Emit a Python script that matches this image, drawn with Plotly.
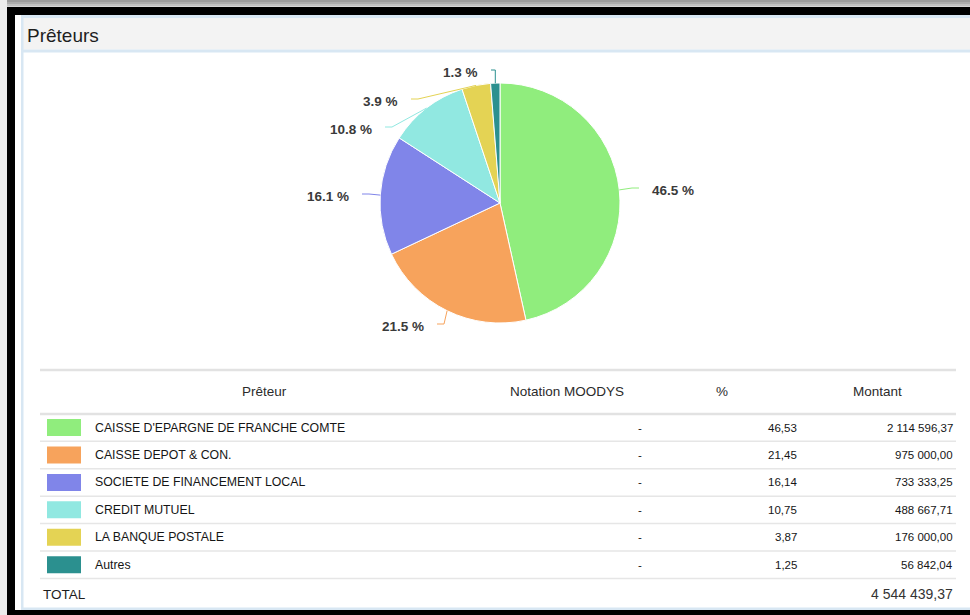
import math
import plotly.graph_objects as go

# ---------------- data ----------------
lenders = ["CAISSE D'EPARGNE DE FRANCHE COMTE", "CAISSE DEPOT & CON.",
           "SOCIETE DE FINANCEMENT LOCAL", "CREDIT MUTUEL",
           "LA BANQUE POSTALE", "Autres"]
ratings = ["-", "-", "-", "-", "-", "-"]
shares = [46.53, 21.45, 16.14, 10.75, 3.87, 1.25]
amounts = [2114596.37, 975000.00, 733333.25, 488667.71, 176000.00, 56842.04]
total_amount = 4544439.37
headers = ["Prêteur", "Notation MOODYS", "%", "Montant"]
title = "Prêteurs"
total_label = "TOTAL"

# ---------------- styles / layout ----------------
colors = ["#90ed7d", "#f7a35c", "#8085e9", "#91e8e1", "#e4d354", "#2b908f"]
W, H = 970, 615
FONT = "Liberation Sans, Arial, sans-serif"

# pie geometry (pixels)
PIE_CX, PIE_CY, PIE_R = 500, 203, 120
# data-label text anchor (edge of the text nearest the pie, centre y)
LABEL_POS = [(652, 190), (424, 326), (349, 196), (372, 129), (398, 101), (478, 72)]

# table geometry (pixels)
T_LEFT, T_RIGHT = 40, 956
TOP_LINE_Y, HEADER_Y, HEADER_LINE_Y = 370, 391, 414
ROW0_Y, ROW_PITCH, TOTAL_Y = 427.5, 27.45, 594
SW_X0, SW_X1, SW_H = 47, 81, 17
NAME_X, RATING_X, PCT_X, AMT_X = 95, 640, 797, 953
HEADER_X = [264, 567, 722, 877]


def fr_num(v):
    return f"{v:,.2f}".replace(",", " ").replace(".", ",")


def px(x):
    return x / W


def py(y):
    return 1 - y / H


fig = go.Figure()

# invisible trace to instantiate the pixel-space axes
fig.add_trace(go.Scatter(x=[0, W], y=[0, H], mode="markers",
                         marker=dict(opacity=0), hoverinfo="skip", showlegend=False))

fig.add_trace(go.Pie(
    values=amounts, labels=lenders, sort=False, direction="clockwise", rotation=0,
    marker=dict(colors=colors, line=dict(color="white", width=1)),
    textinfo="none", hoverinfo="label+percent", showlegend=False,
    domain=dict(x=[px(PIE_CX - PIE_R), px(PIE_CX + PIE_R)],
                y=[py(PIE_CY + PIE_R), py(PIE_CY - PIE_R)]),
))

shapes = []
annotations = []


def rect(x0, y0, x1, y1, color, layer="below"):
    shapes.append(dict(type="rect", xref="x", yref="y", x0=x0, x1=x1, y0=y0, y1=y1,
                       fillcolor=color, line=dict(width=0), layer=layer))


def hline(y, x0, x1, color, width):
    shapes.append(dict(type="line", xref="x", yref="y", x0=x0, x1=x1, y0=y, y1=y,
                       line=dict(color=color, width=width), layer="below"))


def text(x, y, s, anchor, font):
    annotations.append(dict(x=x, y=y, xref="x", yref="y", text=s, showarrow=False,
                            xanchor=anchor, yanchor="middle", borderpad=0, borderwidth=0,
                            font=font))


# ---- screenshot frame ----
rect(0, 0, W, 2, "#9c9c9c")
rect(0, 2, W, 4, "#adadad")
rect(0, 4, W, 6, "#c2c2c2")
rect(0, 6, W, 7, "#d6d6d6")
rect(0, 0, 7, H, "#ececec")
rect(7, 7, W, 15, "#000000")
rect(7, 7, 15, H, "#000000")
rect(7, 610, W, H, "#000000")
# panel
rect(21, 15, W, 18, "#d8e7f3")
rect(23, 18, W, 49.5, "#f3f3f3")
rect(21, 49.5, W, 52.5, "#d8e7f3")
rect(21, 15, 23.5, 610, "#d8e7f3")
rect(21, 607.5, W, 610, "#d8e7f3")

text(27, 35, title, "left", dict(family=FONT, size=19, color="#1e1e1e"))

# ---- pie data labels with connectors ----
total = sum(amounts)
cum = 0.0
for i, v in enumerate(amounts):
    frac = v / total
    mid = 2 * math.pi * (cum + frac / 2)
    cum += frac
    ex = PIE_CX + PIE_R * math.sin(mid)
    ey = PIE_CY - PIE_R * math.cos(mid)
    tx, ty = LABEL_POS[i]
    right = mid < math.pi
    if right:
        lx, ly = tx - 13, ty - 2
        mx = max(lx - 7, ex)
    else:
        lx, ly = tx + 13, ty - 2
        mx = min(lx + 7, ex)
    shapes.append(dict(type="path", xref="x", yref="y",
                       path=f"M {ex:.1f} {ey:.1f} L {mx:.1f} {ly:.1f} L {lx:.1f} {ly:.1f}",
                       line=dict(color=colors[i], width=1), layer="above"))
    text(tx, ty, f"{100 * frac:.1f} %", "left" if right else "right",
         dict(family=FONT, size=13.5, color="#3a3a3a", weight="bold"))

# ---- table ----
hline(TOP_LINE_Y, T_LEFT, T_RIGHT, "#e2e2e2", 2.5)
hline(HEADER_LINE_Y, T_LEFT, T_RIGHT, "#e2e2e2", 2.5)
for hx, htxt in zip(HEADER_X, headers):
    text(hx, HEADER_Y, htxt, "center", dict(family=FONT, size=13.5, color="#2b2b2b"))

row_font = dict(family=FONT, size=12.3, color="#151515")
num_font = dict(family=FONT, size=11.5, color="#151515")
for i, name in enumerate(lenders):
    cy = ROW0_Y + i * ROW_PITCH
    hline(cy + ROW_PITCH / 2, T_LEFT, T_RIGHT, "#e6e6e6", 1.5)
    rect(SW_X0, cy - SW_H / 2, SW_X1, cy + SW_H / 2, colors[i])
    text(NAME_X, cy, name, "left", row_font)
    text(RATING_X, cy, ratings[i], "center", num_font)
    text(PCT_X, cy, fr_num(shares[i]), "right", num_font)
    text(AMT_X, cy, fr_num(amounts[i]), "right", num_font)

text(43, TOTAL_Y, total_label, "left", dict(family=FONT, size=13.5, color="#1e1e1e"))
text(AMT_X, TOTAL_Y, fr_num(total_amount), "right", dict(family=FONT, size=14, color="#333333"))

fig.update_layout(
    width=W, height=H, margin=dict(l=0, r=0, t=0, b=0),
    paper_bgcolor="white", plot_bgcolor="rgba(0,0,0,0)",
    xaxis=dict(range=[0, W], visible=False, fixedrange=True, domain=[0, 1]),
    yaxis=dict(range=[H, 0], visible=False, fixedrange=True, domain=[0, 1]),
    shapes=shapes, annotations=annotations, showlegend=False,
)

fig.write_html("out.html", config={"displayModeBar": False},
               post_script="document.body.style.margin='0px';document.body.style.overflow='hidden';")
